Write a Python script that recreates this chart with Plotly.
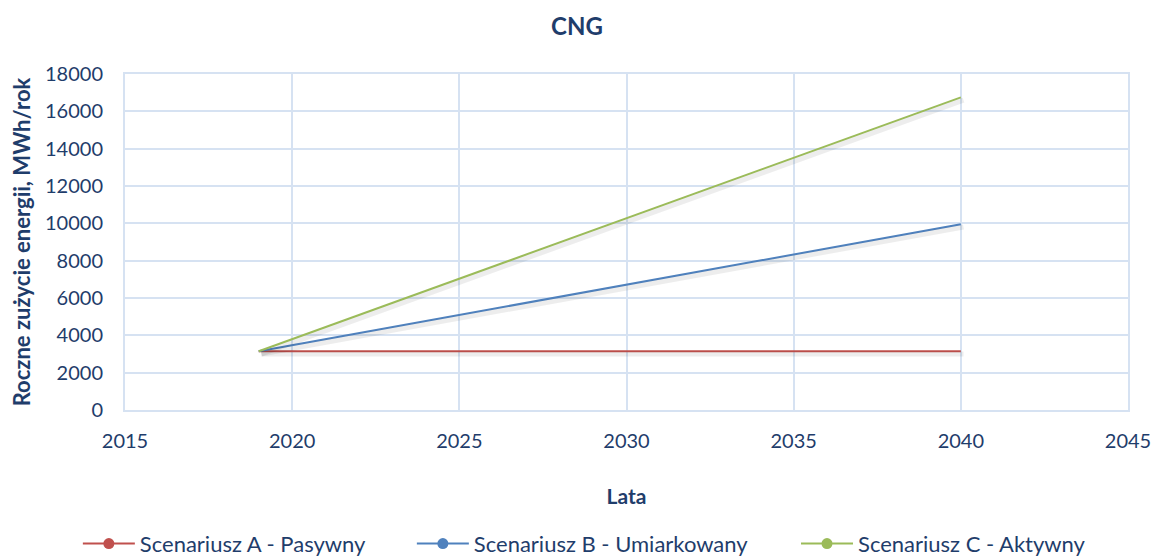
import plotly.graph_objects as go

# Scenario data: annual CNG energy use, MWh/year
years = [2019, 2040]
scenario_a = [3150, 3150]
scenario_b = [3150, 9950]
scenario_c = [3150, 16750]

series_names = ["Scenariusz A - Pasywny", "Scenariusz B - Umiarkowany", "Scenariusz C - Aktywny"]
series_values = [scenario_a, scenario_b, scenario_c]
series_colors = ["#C0504D", "#4F81BD", "#9BBB59"]

FONT = "Lato, 'Open Sans', sans-serif"
TEXT_COLOR = "#1F3D6B"
GRID_COLOR = "#D6E2F2"

# one legend per scenario so the entries can sit where the original puts them
legend_ids = ["legend", "legend2", "legend3"]
legend_x = [-0.047, 0.286, 0.669]

fig = go.Figure()

# soft drop shadow under each line (drawn on a slightly shifted overlay axis)
for vals in series_values:
    fig.add_trace(go.Scatter(
        x=years, y=vals, mode="lines", yaxis="y2", xaxis="x2",
        line=dict(color="rgba(0,0,0,0.07)", width=5),
        showlegend=False, hoverinfo="skip",
    ))

for name, vals, color, lid in zip(series_names, series_values, series_colors, legend_ids):
    fig.add_trace(go.Scatter(
        x=years, y=vals, mode="lines", name=name,
        line=dict(color=color, width=2), showlegend=False,
    ))
    # legend entry with line + round marker, like the original
    fig.add_trace(go.Scatter(
        x=[None], y=[None], mode="lines+markers", name=name, legend=lid,
        line=dict(color=color, width=2),
        marker=dict(color=color, size=11, symbol="circle"),
    ))

legend_style = dict(
    orientation="h", xanchor="left", y=-0.398, yanchor="middle",
    font=dict(size=22, color=TEXT_COLOR), bgcolor="rgba(0,0,0,0)",
    itemwidth=52,
)

fig.update_layout(
    width=1154, height=560,
    template="plotly_white",
    paper_bgcolor="white", plot_bgcolor="white",
    margin=dict(l=125, r=26, t=74, b=150, autoexpand=False),
    font=dict(family=FONT, color=TEXT_COLOR, size=20),
    title=dict(text="<b>CNG</b>", x=0.5, xanchor="center", y=0.952, yanchor="middle",
               font=dict(size=24, color=TEXT_COLOR)),
    xaxis=dict(
        range=[2015, 2045], dtick=5, tick0=2015,
        showgrid=True, gridcolor=GRID_COLOR, gridwidth=2,
        showline=True, linecolor=GRID_COLOR, linewidth=2, mirror=True,
        zeroline=False, ticks="", tickfont=dict(size=20), tickformat="d",
        ticklabelstandoff=12,
        title=dict(text="<b>Lata</b>", font=dict(size=21), standoff=38),
    ),
    yaxis=dict(
        range=[0, 18000], dtick=2000, tickformat="d",
        showgrid=True, gridcolor=GRID_COLOR, gridwidth=2,
        showline=True, linecolor=GRID_COLOR, linewidth=2, mirror=True,
        zeroline=False, ticks="", tickfont=dict(size=20),
        ticklabelstandoff=16,
        title=dict(text="<b>Roczne zużycie energii, MWh/rok</b>", font=dict(size=22), standoff=8),
    ),
    xaxis2=dict(range=[2014.92, 2044.92], overlaying="x", visible=False),
    yaxis2=dict(range=[150, 18150], overlaying="y", visible=False),
    legend=dict(x=legend_x[0], **legend_style),
    legend2=dict(x=legend_x[1], **legend_style),
    legend3=dict(x=legend_x[2], **legend_style),
)

# drop the browser's default body margin so the figure fills the window exactly
fig.write_html("out.html", config={"displayModeBar": False},
               post_script="document.body.style.margin='0';")
